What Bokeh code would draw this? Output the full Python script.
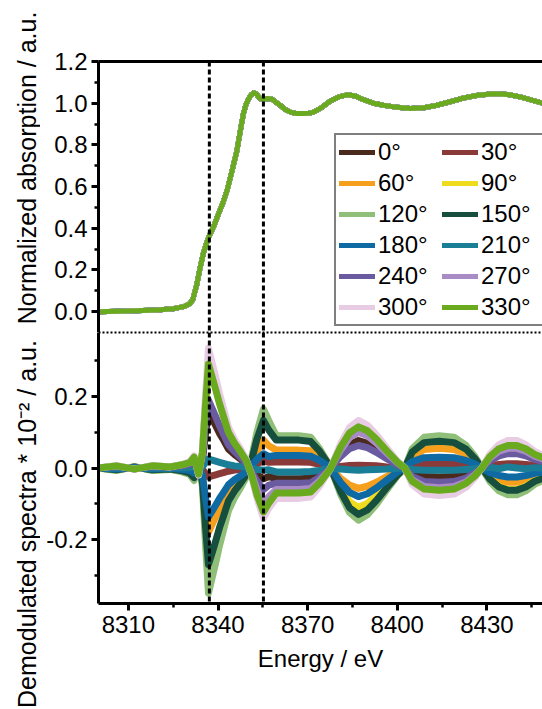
import numpy as np
from bokeh.plotting import figure
from bokeh.layouts import column, row
from bokeh.models import (Span, Legend, LegendItem, LinearAxis, FixedTicker,
                          Range1d, NumeralTickFormatter)
from bokeh.core.properties import value
from bokeh.embed import file_html
from bokeh.resources import INLINE

FONT = "Liberation Sans"

# ---------------- data ----------------
angles = ["0°", "30°", "60°", "90°", "120°", "150°",
          "180°", "210°", "240°", "270°", "300°", "330°"]
colors = ["#4b2a1e", "#8b3a3a", "#f59f1c", "#f0dc1e", "#8fbf78", "#174f3f",
          "#0f6aa3", "#1a7e96", "#6a5aa0", "#a98bc6", "#e8cce4", "#6aaa1e"]

y_titles = ["Normalized absorption / a.u.", "Demodulated spectra * 10⁻² / a.u."]
x_title = "Energy / eV"

energy_xanes = [8300, 8310, 8319.5, 8325, 8328.5, 8330.5, 8331.5, 8332.9, 8334, 8335.1,
                8336.2, 8337.1, 8338.6, 8340.2, 8341.6, 8343, 8344.6, 8346.3, 8347.5, 8348.5,
                8349.4, 8350.2, 8351.1, 8351.9, 8352.8, 8353.6, 8354.4, 8355.2, 8356.6, 8358,
                8359.4, 8360.8, 8362.5, 8364.2, 8366.4, 8368.6, 8370.3, 8372, 8374.8, 8377.6,
                8380.4, 8383.2, 8386, 8388.7, 8392, 8395.4, 8400, 8404.4, 8409, 8413.3,
                8418, 8422.2, 8427, 8432.2, 8437, 8441.2, 8445, 8448.6]
absorption = [0.0, 0.003, 0.008, 0.014, 0.024, 0.038, 0.055, 0.13, 0.21, 0.28,
              0.33, 0.365, 0.41, 0.47, 0.52, 0.58, 0.67, 0.77, 0.87, 0.95,
              0.995, 1.02, 1.04, 1.05, 1.045, 1.03, 1.02, 1.02, 1.022, 1.02,
              1.005, 0.99, 0.97, 0.957, 0.95, 0.95, 0.952, 0.957, 0.98, 1.01,
              1.03, 1.04, 1.035, 1.017, 1.0, 0.99, 0.98, 0.975, 0.978, 0.99,
              1.008, 1.025, 1.038, 1.045, 1.042, 1.03, 1.015, 1.0]

energy_demod = [8300, 8306, 8312, 8318, 8324, 8328, 8330.5, 8332, 8333.5, 8334.8,
                8335.8, 8336.8, 8338, 8339.2, 8340.5, 8341.8, 8343.5, 8345.5, 8347.5, 8349.5,
                8351.2, 8353, 8355.2, 8357, 8359.5, 8363, 8367, 8371, 8374, 8377.5,
                8381, 8384, 8387, 8390, 8393, 8396.5, 8400, 8402.5, 8405, 8409,
                8414, 8419, 8423, 8426, 8428.3, 8431, 8434, 8437, 8440, 8443,
                8446, 8449]

demod_0 = [0.0, 0.003, -0.002, 0.003, 0.002, 0.005, 0.008, 0.016, -0.009, 0.024,
           0.094, 0.157, 0.138, 0.119, 0.097, 0.079, 0.053, 0.038, 0.025, 0.011,
           -0.005, -0.018, -0.030, -0.024, -0.030, -0.030, -0.030, -0.029, -0.018, -0.002,
           0.039, 0.065, 0.077, 0.069, 0.054, 0.032, 0.012, 0.0, -0.015, -0.024,
           -0.025, -0.024, -0.018, -0.009, 0.0, 0.023, 0.038, 0.045, 0.045, 0.038,
           0.027, 0.020]
demod_30 = [0.0, -0.001, 0.0, -0.001, 0.0, -0.001, -0.001, -0.003, 0.002, -0.004,
            -0.015, -0.025, -0.022, -0.019, -0.016, -0.013, -0.009, -0.006, -0.004, -0.002,
            0.003, 0.012, 0.020, 0.016, 0.017, 0.017, 0.017, 0.016, 0.010, 0.001,
            0.004, 0.007, 0.008, 0.007, 0.006, 0.003, 0.001, 0.0, 0.008, 0.012,
            0.013, 0.012, 0.009, 0.005, 0.0, 0.006, 0.010, 0.012, 0.012, 0.010,
            0.007, 0.005]
demod_60 = [0.0, -0.004, 0.002, -0.004, -0.002, -0.005, -0.009, -0.018, 0.011, -0.027,
            -0.108, -0.180, -0.158, -0.137, -0.112, -0.090, -0.061, -0.043, -0.029, -0.013,
            0.012, 0.047, 0.078, 0.062, 0.050, 0.050, 0.050, 0.048, 0.030, 0.003,
            -0.029, -0.048, -0.057, -0.051, -0.040, -0.024, -0.009, 0.0, 0.033, 0.052,
            0.055, 0.052, 0.039, 0.019, 0.0, -0.020, -0.034, -0.040, -0.040, -0.034,
            -0.024, -0.018]
demod_90 = [0.0, -0.006, 0.003, -0.006, -0.003, -0.009, -0.016, -0.031, 0.019, -0.047,
            -0.186, -0.310, -0.273, -0.236, -0.192, -0.155, -0.105, -0.074, -0.050, -0.022,
            0.023, 0.090, 0.150, 0.120, 0.080, 0.080, 0.080, 0.076, 0.048, 0.004,
            -0.055, -0.094, -0.110, -0.099, -0.077, -0.046, -0.017, 0.0, 0.045, 0.071,
            0.075, 0.071, 0.053, 0.026, 0.0, -0.030, -0.051, -0.060, -0.060, -0.051,
            -0.036, -0.027]
demod_120 = [0.0, -0.007, 0.004, -0.007, -0.004, -0.011, -0.018, -0.035, 0.021, -0.053,
             -0.210, -0.350, -0.308, -0.266, -0.217, -0.175, -0.119, -0.084, -0.056, -0.025,
             0.025, 0.099, 0.165, 0.132, 0.090, 0.090, 0.090, 0.086, 0.054, 0.005,
             -0.073, -0.124, -0.146, -0.131, -0.102, -0.061, -0.022, 0.0, 0.054, 0.086,
             0.090, 0.086, 0.063, 0.032, 0.0, -0.038, -0.064, -0.075, -0.075, -0.064,
             -0.045, -0.034]
demod_150 = [0.0, -0.005, 0.003, -0.005, -0.003, -0.008, -0.014, -0.027, 0.016, -0.041,
             -0.162, -0.270, -0.238, -0.205, -0.167, -0.135, -0.092, -0.065, -0.043, -0.019,
             0.020, 0.080, 0.133, 0.106, 0.078, 0.078, 0.078, 0.074, 0.047, 0.004,
             -0.065, -0.111, -0.130, -0.117, -0.091, -0.055, -0.020, 0.0, 0.045, 0.071,
             0.075, 0.071, 0.053, 0.026, 0.0, -0.031, -0.053, -0.062, -0.062, -0.053,
             -0.037, -0.028]
demod_180 = [0.0, -0.003, 0.001, -0.003, -0.001, -0.004, -0.007, -0.014, 0.008, -0.021,
             -0.082, -0.137, -0.121, -0.104, -0.085, -0.069, -0.047, -0.033, -0.022, -0.010,
             0.006, 0.024, 0.040, 0.032, 0.035, 0.035, 0.035, 0.033, 0.021, 0.002,
             -0.040, -0.068, -0.080, -0.072, -0.056, -0.034, -0.012, 0.0, 0.018, 0.029,
             0.030, 0.029, 0.021, 0.011, 0.0, -0.013, -0.021, -0.025, -0.025, -0.021,
             -0.015, -0.011]
demod_210 = [0.0, 0.001, 0.0, 0.001, 0.0, 0.001, 0.001, 0.003, -0.002, 0.004,
             0.015, 0.025, 0.022, 0.019, 0.016, 0.013, 0.009, 0.006, 0.004, 0.002,
             -0.001, -0.004, -0.006, -0.005, -0.011, -0.011, -0.011, -0.010, -0.007, -0.001,
             -0.003, -0.005, -0.006, -0.005, -0.004, -0.003, -0.001, 0.0, -0.004, -0.006,
             -0.006, -0.006, -0.004, -0.002, 0.0, 0.002, -0.002, 0.003, 0.0, -0.002,
             0.001, 0.0]
demod_240 = [0.0, 0.004, -0.002, 0.004, 0.002, 0.006, 0.010, 0.019, -0.011, 0.029,
             0.114, 0.190, 0.167, 0.144, 0.118, 0.095, 0.065, 0.046, 0.030, 0.013,
             -0.009, -0.036, -0.060, -0.048, -0.043, -0.043, -0.043, -0.041, -0.026, -0.002,
             0.032, 0.054, 0.063, 0.057, 0.044, 0.026, 0.009, 0.0, -0.024, -0.038,
             -0.040, -0.038, -0.028, -0.014, 0.0, 0.020, 0.034, 0.040, 0.040, 0.034,
             0.024, 0.018]
demod_270 = [0.0, 0.006, -0.003, 0.006, 0.003, 0.009, 0.015, 0.030, -0.018, 0.045,
             0.180, 0.300, 0.264, 0.228, 0.186, 0.150, 0.102, 0.072, 0.048, 0.021,
             -0.015, -0.060, -0.100, -0.080, -0.060, -0.060, -0.060, -0.057, -0.036, -0.003,
             0.050, 0.085, 0.100, 0.090, 0.070, 0.042, 0.015, 0.0, -0.033, -0.052,
             -0.055, -0.052, -0.039, -0.019, 0.0, 0.028, 0.047, 0.055, 0.055, 0.047,
             0.033, 0.025]
demod_300 = [0.0, 0.007, -0.003, 0.007, 0.003, 0.010, 0.017, 0.034, -0.020, 0.050,
             0.201, 0.335, 0.295, 0.255, 0.208, 0.168, 0.114, 0.080, 0.054, 0.023,
             -0.021, -0.084, -0.140, -0.112, -0.085, -0.085, -0.085, -0.081, -0.051, -0.004,
             0.067, 0.113, 0.133, 0.120, 0.093, 0.056, 0.020, 0.0, -0.046, -0.073,
             -0.077, -0.073, -0.054, -0.027, 0.0, 0.039, 0.065, 0.077, 0.077, 0.065,
             0.046, 0.035]
demod_330 = [0.0, 0.006, -0.003, 0.006, 0.003, 0.009, 0.015, 0.030, -0.017, 0.044,
             0.174, 0.290, 0.255, 0.220, 0.180, 0.145, 0.099, 0.070, 0.046, 0.020,
             -0.018, -0.074, -0.123, -0.098, -0.070, -0.070, -0.070, -0.067, -0.042, -0.004,
             0.058, 0.098, 0.115, 0.104, 0.081, 0.048, 0.017, 0.0, -0.037, -0.059,
             -0.062, -0.059, -0.043, -0.022, 0.0, 0.032, 0.054, 0.063, 0.063, 0.054,
             0.038, 0.028]
demod = [demod_0, demod_30, demod_60, demod_90, demod_120, demod_150,
         demod_180, demod_210, demod_240, demod_270, demod_300, demod_330]

edge_markers = [8337.1, 8355.2]

x_ticks = [8310, 8340, 8370, 8400, 8430]
x_minor = [8325, 8355, 8385, 8415, 8445]
top_ticks = [0.0, 0.2, 0.4, 0.6, 0.8, 1.0, 1.2]
top_minor = [0.1, 0.3, 0.5, 0.7, 0.9, 1.1]
bot_ticks = [-0.2, 0.0, 0.2]
bot_minor = [-0.3, -0.1, 0.1, 0.3]

# ---------------- layout constants ----------------
W = 542
LAB_W = 40                # strip holding the two rotated axis titles
LEFT = 98                 # frame left edge in page pixels
X0, X1 = 8300, 8448.6
TOP_Y = (-0.1, 1.2)
BOT_Y = (-0.379, 0.379)
TOP_H, TOP_BORDER = 332, 61
BOT_H, BOT_BORDER = 377, 106
H = TOP_H + BOT_H
TITLE_X = 26
TITLE_CENTERS = [167.5, 523.5]   # vertical centres (page px from top)


def style_axis(ax, ticks, minor, fmt):
    ax.ticker = FixedTicker(ticks=ticks, minor_ticks=minor)
    ax.formatter = NumeralTickFormatter(format=fmt)
    ax.axis_line_width = 3
    ax.axis_line_color = "black"
    ax.major_tick_line_width = 3
    ax.major_tick_line_color = "black"
    ax.major_tick_out = 7
    ax.major_tick_in = 0
    ax.minor_tick_line_width = 2.5
    ax.minor_tick_line_color = "black"
    ax.minor_tick_out = 4
    ax.minor_tick_in = 0
    ax.major_label_text_font = FONT
    ax.major_label_text_font_size = "24px"
    ax.major_label_text_color = "black"
    ax.major_label_standoff = 4


def bare_axis(dash=None, width=3.0):
    ax = LinearAxis(ticker=FixedTicker(ticks=[]), major_tick_out=0, major_tick_in=0,
                    minor_tick_out=0, minor_tick_in=0, major_label_standoff=0,
                    axis_label_standoff=0, axis_line_width=width, axis_line_color="black")
    if dash:
        ax.axis_line_dash = dash
    return ax


x_range = Range1d(X0, X1)
PW = W - LAB_W

# ---------------- title strip ----------------
lab = figure(width=LAB_W, height=H, x_range=Range1d(0, LAB_W), y_range=Range1d(0, H),
             output_backend="svg", toolbar_location=None,
             x_axis_location=None, y_axis_location=None, min_border=0)
lab.outline_line_color = None
lab.grid.visible = False
lab.text(x=[TITLE_X] * 2, y=[H - c for c in TITLE_CENTERS], text=y_titles,
         angle=np.pi / 2, text_align="center", text_baseline="middle",
         text_font=value(FONT), text_font_size=value("25px"), text_color="black")

# ---------------- top panel ----------------
top = figure(width=PW, height=TOP_H, x_range=x_range, y_range=Range1d(*TOP_Y),
             output_backend="svg", toolbar_location=None, x_axis_location=None,
             min_border_left=LEFT - LAB_W, min_border_right=0,
             min_border_top=TOP_BORDER, min_border_bottom=0)
top.outline_line_color = None
top.grid.visible = False
style_axis(top.yaxis[0], top_ticks, top_minor, "0.0")
top.add_layout(bare_axis(width=3), "above")
top.add_layout(bare_axis(dash="2 2", width=2), "below")

top_renderers = []
for ang, col in zip(angles, colors):
    r = top.line(energy_xanes, absorption, line_color=col, line_width=5,
                 line_cap="round", line_join="round")
    top_renderers.append(r)

for e in edge_markers:
    top.add_layout(Span(location=e, dimension="height", line_color="black",
                        line_width=3, line_dash="5 3"))

legend = Legend(items=[LegendItem(label=a, renderers=[r]) for a, r in zip(angles, top_renderers)],
                orientation="horizontal", ncols=2, location=(236, 6),
                border_line_color="black", border_line_width=2,
                background_fill_color="white", background_fill_alpha=1.0,
                label_text_font=FONT, label_text_font_size="24px",
                label_text_color="black",
                glyph_width=36, glyph_height=24, label_height=24, label_width=61,
                label_standoff=3, spacing=3, padding=3, margin=0)
top.add_layout(legend)

# ---------------- bottom panel ----------------
bot = figure(width=PW, height=BOT_H, x_range=x_range, y_range=Range1d(*BOT_Y),
             output_backend="svg", toolbar_location=None,
             min_border_left=LEFT - LAB_W, min_border_right=0, min_border_top=0,
             min_border_bottom=BOT_BORDER)
bot.outline_line_color = None
bot.grid.visible = False
style_axis(bot.yaxis[0], bot_ticks, bot_minor, "0.0")
style_axis(bot.xaxis[0], x_ticks, x_minor, "0")
bot.xaxis[0].major_label_standoff = 5
bot.xaxis[0].axis_label = x_title
bot.xaxis[0].axis_label_text_font = FONT
bot.xaxis[0].axis_label_text_font_size = "24px"
bot.xaxis[0].axis_label_text_font_style = "normal"
bot.xaxis[0].axis_label_text_color = "black"
bot.xaxis[0].axis_label_standoff = 9
bot.add_layout(bare_axis(dash="2 2", width=2), "above")

for vals, col in zip(demod, colors):
    bot.line(energy_demod, vals, line_color=col, line_width=7,
             line_cap="round", line_join="round")

for e in edge_markers:
    bot.add_layout(Span(location=e, dimension="height", line_color="black",
                        line_width=3, line_dash="5 3"))

layout = row(lab, column(top, bot, spacing=0), spacing=0)
open("out.html", "w").write(file_html(layout, INLINE))
